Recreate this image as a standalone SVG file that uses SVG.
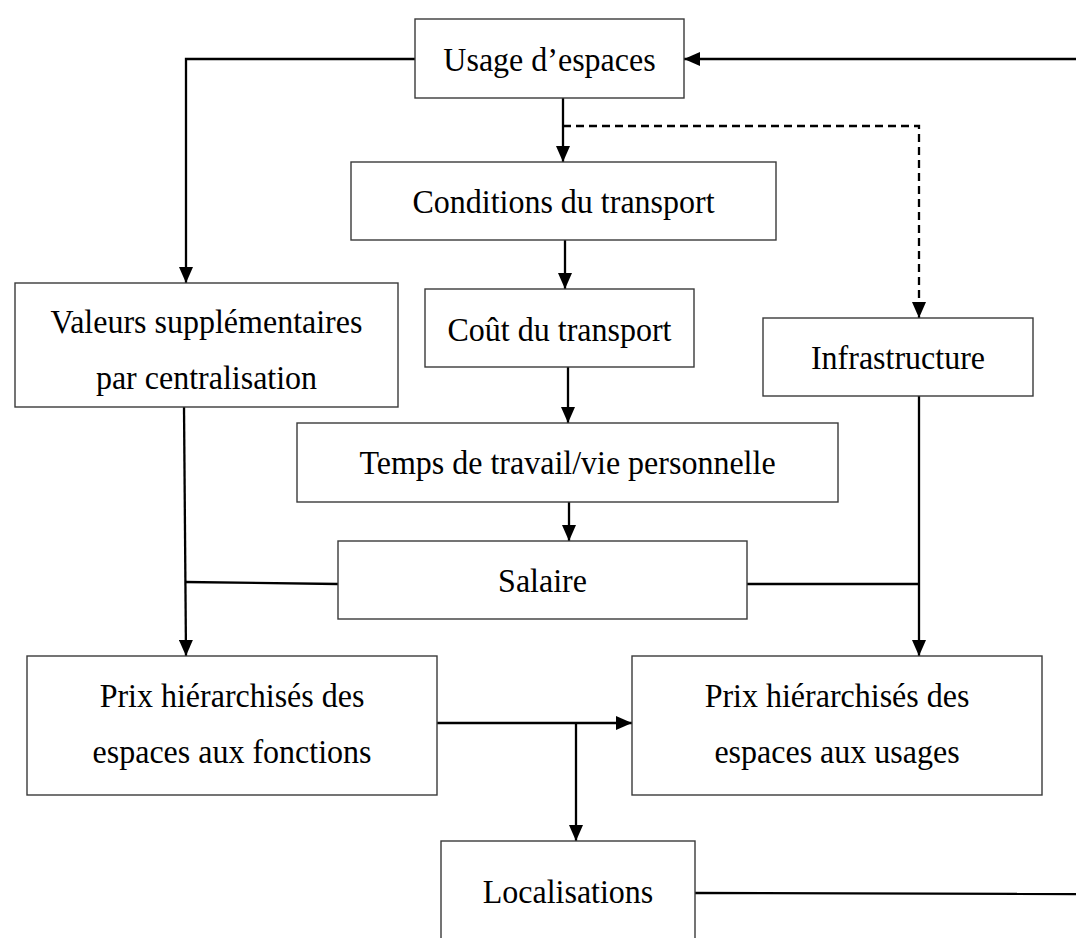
<svg xmlns="http://www.w3.org/2000/svg" width="1076" height="938" viewBox="0 0 1076 938">
<defs>
<style>
.box{fill:#fff;stroke:#3a3a3a;stroke-width:1.4}
.lbl{font-family:"Liberation Serif","Times New Roman",serif;font-size:32px;fill:#000;text-anchor:middle}
.ln{fill:none;stroke:#000;stroke-width:2.3}
.dash{fill:none;stroke:#000;stroke-width:2.3;stroke-dasharray:8 5}
</style>
<marker id="ah" markerUnits="userSpaceOnUse" markerWidth="16" markerHeight="14" refX="16" refY="7" orient="auto">
<path d="M0,0 L16,7 L0,14 z" fill="#000"/>
</marker>
</defs>
<rect width="1076" height="938" fill="#fff"/>
<g id="connectors">
<polyline class="ln" points="1076,59 684,59" marker-end="url(#ah)"/>
<polyline class="ln" points="415,59 186,59 186,283" marker-end="url(#ah)"/>
<line class="ln" x1="563" y1="98" x2="563" y2="162" marker-end="url(#ah)"/>
<polyline class="dash" points="563,126 919,126 919,318" marker-end="url(#ah)"/>
<line class="ln" x1="565" y1="240" x2="565" y2="289" marker-end="url(#ah)"/>
<line class="ln" x1="568" y1="367" x2="568" y2="423" marker-end="url(#ah)"/>
<line class="ln" x1="569" y1="502" x2="569" y2="541" marker-end="url(#ah)"/>
<line class="ln" x1="184" y1="407" x2="186" y2="656" marker-end="url(#ah)"/>
<line class="ln" x1="185" y1="582" x2="338" y2="584"/>
<line class="ln" x1="919" y1="396" x2="919" y2="656" marker-end="url(#ah)"/>
<line class="ln" x1="747" y1="584" x2="919" y2="584"/>
<line class="ln" x1="437" y1="723" x2="632" y2="723" marker-end="url(#ah)"/>
<line class="ln" x1="576" y1="723" x2="576" y2="841" marker-end="url(#ah)"/>
<line class="ln" x1="695" y1="893" x2="1076" y2="894"/>
</g>
<g id="usage">
<rect class="box" x="415" y="19" width="269" height="79"/>
<text class="lbl" transform="translate(549.5,71) scale(1,1.08)">Usage d’espaces</text>
</g>
<g id="conditions">
<rect class="box" x="351" y="162" width="425" height="78"/>
<text class="lbl" transform="translate(563.5,213) scale(1,1.08)">Conditions du transport</text>
</g>
<g id="valeurs">
<rect class="box" x="15" y="283" width="383" height="124"/>
<text class="lbl" transform="translate(206.5,333) scale(1,1.08)">Valeurs supplémentaires</text>
<text class="lbl" transform="translate(206.5,389) scale(1,1.08)">par centralisation</text>
</g>
<g id="cout">
<rect class="box" x="425" y="289" width="269" height="78"/>
<text class="lbl" transform="translate(559.5,341) scale(1,1.08)">Coût du transport</text>
</g>
<g id="infrastructure">
<rect class="box" x="763" y="318" width="270" height="78"/>
<text class="lbl" transform="translate(898,369) scale(1,1.08)">Infrastructure</text>
</g>
<g id="temps">
<rect class="box" x="297" y="423" width="541" height="79"/>
<text class="lbl" transform="translate(567.5,474) scale(1,1.08)">Temps de travail/vie personnelle</text>
</g>
<g id="salaire">
<rect class="box" x="338" y="541" width="409" height="78"/>
<text class="lbl" transform="translate(542.5,592) scale(1,1.08)">Salaire</text>
</g>
<g id="prix-fonctions">
<rect class="box" x="27" y="656" width="410" height="139"/>
<text class="lbl" transform="translate(232,707) scale(1,1.08)">Prix hiérarchisés des</text>
<text class="lbl" transform="translate(232,763) scale(1,1.08)">espaces aux fonctions</text>
</g>
<g id="prix-usages">
<rect class="box" x="632" y="656" width="410" height="139"/>
<text class="lbl" transform="translate(837,707) scale(1,1.08)">Prix hiérarchisés des</text>
<text class="lbl" transform="translate(837,763) scale(1,1.08)">espaces aux usages</text>
</g>
<g id="localisations">
<rect class="box" x="441" y="841" width="254" height="110"/>
<text class="lbl" transform="translate(568,903) scale(1,1.08)">Localisations</text>
</g>
</svg>
